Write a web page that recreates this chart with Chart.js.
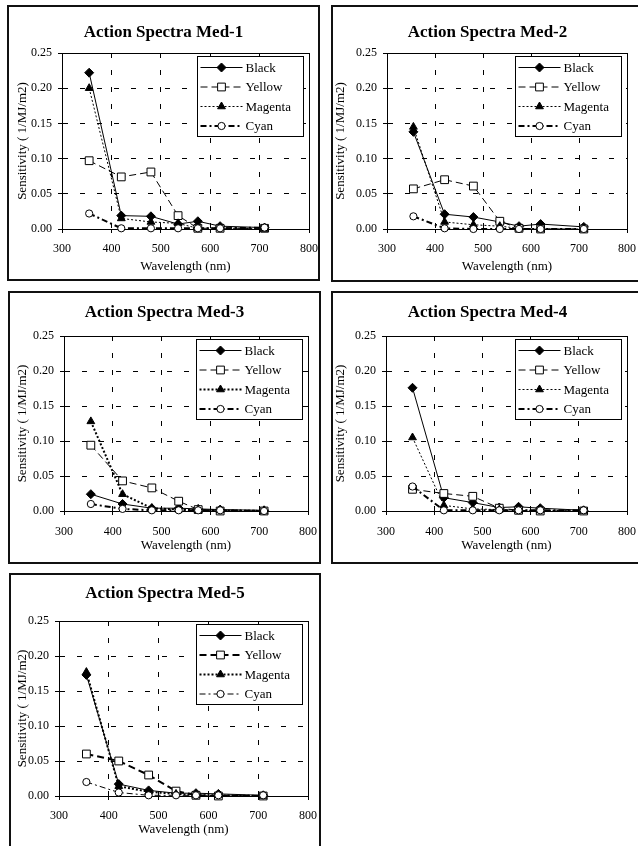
<!DOCTYPE html>
<html>
<head>
<meta charset="utf-8">
<title>Action Spectra</title>
<script src="https://cdn.jsdelivr.net/npm/chart.js@4.4.0/dist/chart.umd.min.js"></script>
<style>
    html, body { margin: 0; padding: 0; background: #fff; }
    body { width: 638px; height: 846px; position: relative; overflow: hidden; }
    .panel { position: absolute; border: 2px solid #111; box-sizing: border-box; background: #fff; }
    .panel canvas { position: absolute; left: 0; top: 0; }
    .panel h2 {
        position: absolute; left: 0; right: 0; margin: 0;
        font: bold 17px "Liberation Serif", "Times New Roman", serif;
        line-height: 20px; height: 20px; text-align: center; color: #000;
        z-index: 2;
    }
</style>
</head>
<body>
<script>
// wavelengths (nm) shared by every panel
const wavelengths = [355, 420, 480, 535, 575, 620, 710];
const seriesNames = ['Black', 'Yellow', 'Magenta', 'Cyan'];
const xTicks = [300, 400, 500, 600, 700, 800];
const yTicks = [0.00, 0.05, 0.10, 0.15, 0.20, 0.25];

// sensitivity (1/MJ/m2)
const med1Black   = [0.222, 0.019, 0.018, 0.007, 0.011, 0.004, 0.002];
const med1Yellow  = [0.097, 0.074, 0.081, 0.019, 0.001, 0.001, 0.001];
const med1Magenta = [0.200, 0.015, 0.010, 0.008, 0.001, 0.002, 0.000];
const med1Cyan    = [0.022, 0.001, 0.001, 0.001, 0.001, 0.001, 0.002];

const med2Black   = [0.138, 0.021, 0.017, 0.010, 0.004, 0.007, 0.003];
const med2Yellow  = [0.057, 0.070, 0.061, 0.011, 0.001, 0.000, 0.000];
const med2Magenta = [0.145, 0.010, 0.006, 0.004, 0.001, 0.000, 0.000];
const med2Cyan    = [0.018, 0.001, 0.000, 0.000, 0.000, 0.000, 0.000];

const med3Black   = [0.024, 0.010, 0.004, 0.004, 0.003, 0.002, 0.001];
const med3Yellow  = [0.094, 0.043, 0.033, 0.014, 0.002, 0.000, 0.000];
const med3Magenta = [0.128, 0.024, 0.004, 0.002, 0.001, 0.001, 0.000];
const med3Cyan    = [0.010, 0.003, 0.001, 0.001, 0.001, 0.001, 0.000];

const med4Black   = [0.176, 0.019, 0.012, 0.005, 0.006, 0.004, 0.001];
const med4Yellow  = [0.031, 0.025, 0.021, 0.004, 0.001, 0.000, 0.000];
const med4Magenta = [0.105, 0.008, 0.003, 0.002, 0.001, 0.001, 0.000];
const med4Cyan    = [0.035, 0.001, 0.001, 0.001, 0.001, 0.001, 0.001];

const med5Black   = [0.173, 0.017, 0.008, 0.004, 0.004, 0.003, 0.001];
const med5Yellow  = [0.060, 0.050, 0.030, 0.007, 0.001, 0.000, 0.000];
const med5Magenta = [0.177, 0.014, 0.006, 0.003, 0.001, 0.001, 0.000];
const med5Cyan    = [0.020, 0.005, 0.001, 0.001, 0.001, 0.001, 0.001];

const SERIF = '"Liberation Serif", "Times New Roman", serif';
Chart.defaults.font.family = SERIF;
Chart.defaults.color = '#000';

// box = outer frame [x, y, w, h], plot = chart area [left, top, right, bottom]
const panels = [
    { title: 'Action Spectra Med-1', box: [7, 5, 313, 276], plot: [62, 53, 309, 229], titleY: 32, yTitleX: 23, xTitleY: 267, tickPad: 9,
      values: [med1Black, med1Yellow, med1Magenta, med1Cyan], widths: [1, 1, 1, 2] },
    { title: 'Action Spectra Med-2', box: [331, 5, 313, 277], plot: [387, 53, 627, 229], titleY: 32, yTitleX: 341, xTitleY: 267, tickPad: 9,
      values: [med2Black, med2Yellow, med2Magenta, med2Cyan], widths: [1, 1, 1, 2] },
    { title: 'Action Spectra Med-3', box: [8, 291, 313, 273], plot: [64, 336, 308, 511], titleY: 312, yTitleX: 23, xTitleY: 546, tickPad: 10,
      values: [med3Black, med3Yellow, med3Magenta, med3Cyan], widths: [1, 1, 2, 2] },
    { title: 'Action Spectra Med-4', box: [331, 291, 313, 273], plot: [386, 336, 627, 511], titleY: 312, yTitleX: 341, xTitleY: 546, tickPad: 10,
      values: [med4Black, med4Yellow, med4Magenta, med4Cyan], widths: [1, 1, 1, 2] },
    { title: 'Action Spectra Med-5', box: [9, 573, 312, 276], plot: [59, 621, 308, 796], titleY: 593, yTitleX: 23, xTitleY: 830, tickPad: 9,
      values: [med5Black, med5Yellow, med5Magenta, med5Cyan], widths: [1, 2, 2, 1] }
];

const seriesStyle = [
    { dash: [],           pointStyle: 'rectRot',  radius: 4.5, fill: '#000' },
    { dash: [7, 4],       pointStyle: 'rect',     radius: 5.5, fill: '#fff' },
    { dash: [2, 2],       pointStyle: 'triangle', radius: 4.5, fill: '#000' },
    { dash: [6, 3, 2, 3], pointStyle: 'circle',   radius: 3.6, fill: '#fff' }
];

function drawMarker(ctx, style, x, y, r, fill) {
    ctx.beginPath();
    if (style === 'rectRot') {
        ctx.moveTo(x, y - r); ctx.lineTo(x + r, y); ctx.lineTo(x, y + r); ctx.lineTo(x - r, y);
    } else if (style === 'rect') {
        const s = r * Math.SQRT1_2;
        ctx.rect(x - s, y - s, 2 * s, 2 * s);
    } else if (style === 'triangle') {
        ctx.moveTo(x, y - r); ctx.lineTo(x + r * 0.866, y + r * 0.5); ctx.lineTo(x - r * 0.866, y + r * 0.5);
    } else {
        ctx.arc(x, y, r, 0, Math.PI * 2);
    }
    ctx.closePath();
    ctx.fillStyle = fill;
    ctx.fill();
    ctx.lineWidth = 1;
    ctx.strokeStyle = '#000';
    ctx.stroke();
}

// solid frame round the plot area
const framePlugin = {
    id: 'frame',
    beforeDatasetsDraw(chart) {
        const a = chart.chartArea;
        const ctx = chart.ctx;
        ctx.save();
        ctx.strokeStyle = '#000';
        ctx.lineWidth = 1;
        ctx.strokeRect(Math.round(a.left) + 0.5, Math.round(a.top) + 0.5,
            Math.round(a.right - a.left), Math.round(a.bottom - a.top));
        ctx.restore();
    }
};

// boxed legend inside the top right corner of the plot
const boxLegend = {
    id: 'boxLegend',
    afterDatasetsDraw(chart) {
        const a = chart.chartArea;
        const ctx = chart.ctx;
        const w = 106, h = 80;
        const x0 = Math.round(a.right - 6 - w) + 0.5;
        const y0 = Math.round(a.top + 3) + 0.5;
        ctx.save();
        ctx.fillStyle = '#fff';
        ctx.fillRect(x0, y0, w, h);
        ctx.strokeStyle = '#000';
        ctx.lineWidth = 1;
        ctx.setLineDash([]);
        ctx.strokeRect(x0, y0, w, h);
        chart.data.datasets.forEach((ds, i) => {
            const cy = y0 + 11 + i * 19.5;
            ctx.beginPath();
            ctx.setLineDash(ds.borderDash);
            ctx.lineWidth = ds.borderWidth;
            ctx.strokeStyle = '#000';
            ctx.moveTo(x0 + 3, cy);
            ctx.lineTo(x0 + 45, cy);
            ctx.stroke();
            ctx.setLineDash([]);
            drawMarker(ctx, ds.pointStyle, x0 + 24, cy, ds.pointRadius, ds.pointBackgroundColor);
            ctx.fillStyle = '#000';
            ctx.font = '13px ' + SERIF;
            ctx.textBaseline = 'middle';
            ctx.textAlign = 'left';
            ctx.fillText(ds.label, x0 + 48, cy + 1);
        });
        ctx.restore();
    }
};

panels.forEach((p, n) => {
    const [bx, by, bw, bh] = p.box;
    const [pl, pt, pr, pb] = p.plot;
    const innerX = bx + 2, innerY = by + 2, innerW = bw - 4, innerH = bh - 4;

    const div = document.createElement('div');
    div.className = 'panel';
    div.style.left = bx + 'px';
    div.style.top = by + 'px';
    div.style.width = bw + 'px';
    div.style.height = bh + 'px';
    const canvas = document.createElement('canvas');
    canvas.id = 'chart' + (n + 1);
    canvas.width = innerW;
    canvas.height = innerH;
    div.appendChild(canvas);
    const heading = document.createElement('h2');
    heading.textContent = p.title;
    heading.style.top = (p.titleY - innerY - 10) + 'px';
    div.appendChild(heading);
    document.body.appendChild(div);

    const axisLH = 13 * 1.2;

    new Chart(canvas.getContext('2d'), {
        type: 'line',
        data: {
            datasets: seriesNames.map((name, i) => ({
                label: name,
                data: wavelengths.map((w, k) => ({ x: w, y: p.values[i][k] })),
                borderColor: '#000',
                borderWidth: p.widths[i],
                borderDash: seriesStyle[i].dash,
                pointStyle: seriesStyle[i].pointStyle,
                pointRadius: seriesStyle[i].radius,
                pointBackgroundColor: seriesStyle[i].fill,
                pointBorderColor: '#000',
                pointBorderWidth: 1,
                tension: 0,
                fill: false,
                clip: false,
                order: 3 - i
            }))
        },
        options: {
            responsive: false,
            animation: false,
            layout: { padding: { left: 0, top: pt - innerY, bottom: 0, right: innerX + innerW - pr } },
            plugins: {
                legend: { display: false },
                tooltip: { enabled: false },
                title: { display: false }
            },
            scales: {
                x: {
                    type: 'linear',
                    min: xTicks[0],
                    max: xTicks[xTicks.length - 1],
                    afterBuildTicks: s => { s.ticks = xTicks.map(v => ({ value: v })); },
                    afterFit: s => {
                        s.height = innerY + innerH - pb;
                        s.paddingLeft = 0;
                        s.paddingRight = 0;
                    },
                    ticks: { color: '#000', font: { size: 12 }, padding: p.tickPad, maxRotation: 0 },
                    grid: { color: '#000', lineWidth: 1, tickLength: 4, tickColor: '#000' },
                    border: { display: true, color: '#000', width: 1, dash: [5, 12] },
                    title: {
                        display: true, text: 'Wavelength (nm)', color: '#000',
                        font: { size: 13 },
                        padding: { top: 0, bottom: (innerY + innerH - p.xTitleY) - axisLH / 2 }
                    }
                },
                y: {
                    type: 'linear',
                    min: yTicks[0],
                    max: yTicks[yTicks.length - 1],
                    afterBuildTicks: s => { s.ticks = yTicks.map(v => ({ value: v })); },
                    afterFit: s => { s.width = pl - innerX; },
                    ticks: { color: '#000', font: { size: 12 }, padding: 6, callback: v => v.toFixed(2) },
                    grid: { color: '#000', lineWidth: 1, tickLength: 4, tickColor: '#000' },
                    border: { display: true, color: '#000', width: 1, dash: [5, 12] },
                    title: {
                        display: true, text: 'Sensitivity ( 1/MJ/m2)', color: '#000',
                        font: { size: 13 },
                        padding: { top: Math.max(0, (p.yTitleX - innerX) - axisLH / 2), bottom: 0 }
                    }
                }
            }
        },
        plugins: [framePlugin, boxLegend]
    });
});
</script>
</body>
</html>
